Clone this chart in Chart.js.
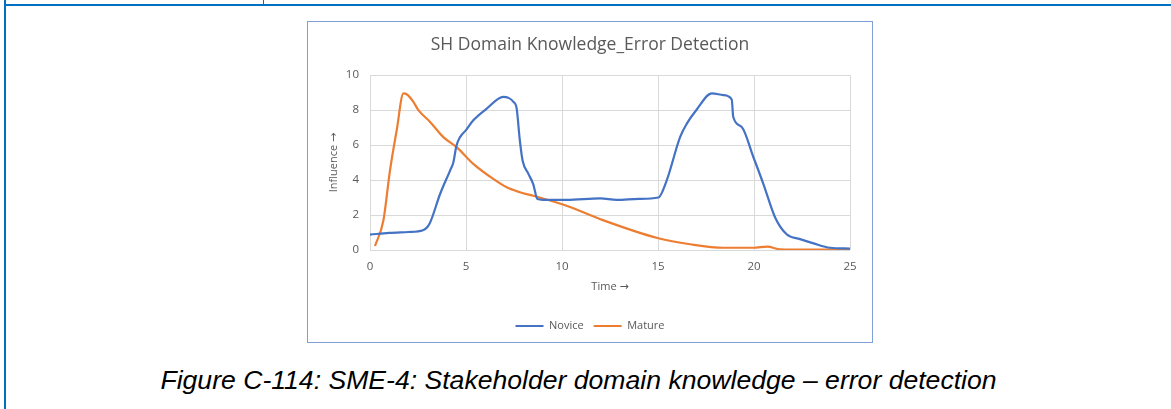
<!DOCTYPE html>
<html>
<head>
<meta charset="utf-8">
<script src="https://cdn.jsdelivr.net/npm/chart.js@4.4.1/dist/chart.umd.min.js"></script>
<style>
  html,body{margin:0;padding:0;background:#fff;}
  body{width:1171px;height:409px;position:relative;overflow:hidden;}
  .ltop{position:absolute;left:4px;top:4px;width:1167px;height:2px;background:#0070c0;}
  .lleft{position:absolute;left:4px;top:0;width:2px;height:409px;background:#0070c0;}
  .ltick{position:absolute;left:263px;top:0;width:1px;height:4px;background:#0070c0;}
  .box{position:absolute;left:307px;top:21px;width:564px;height:320px;border:1px solid #7f9fd8;box-sizing:content-box;}
  canvas{display:block;}
  .cap{position:absolute;left:-7px;width:1171px;top:365px;text-align:center;font-family:"Liberation Sans",Arial,sans-serif;font-style:italic;font-size:26.6px;color:#000;white-space:nowrap;}
</style>
</head>
<body>
<div class="ltop"></div><div class="lleft"></div><div class="ltick"></div>
<div class="box"><canvas id="c" width="564" height="320"></canvas></div>
<div class="cap">Figure C-114: SME-4: Stakeholder domain knowledge – error detection</div>
<script>
const noviceT = [0, 1.0, 2.0, 2.76, 3.1, 3.65, 4.17, 4.34, 4.5, 4.69, 5.0, 5.38, 6.08, 6.94, 7.2, 7.47, 7.64, 7.8, 7.95, 8.25, 8.5, 8.72, 9.0, 10.24, 12.0, 12.85, 14.0, 15.02, 15.45, 16.15, 16.5, 17.0, 17.8, 18.4, 18.84, 18.92, 19.36, 19.97, 20.49, 21.1, 21.7, 22.4, 23.1, 23.96, 25];
const noviceV = [0.88, 0.98, 1.03, 1.13, 1.5, 3.2, 4.54, 5.0, 5.95, 6.45, 6.85, 7.41, 8.08, 8.75, 8.7, 8.47, 8.08, 6.3, 5.1, 4.35, 3.77, 2.91, 2.87, 2.87, 2.95, 2.86, 2.92, 3.0, 3.97, 6.45, 7.22, 8.0, 8.95, 8.85, 8.6, 7.6, 7.03, 5.3, 3.77, 1.86, 0.9, 0.62, 0.38, 0.13, 0.08];
const matureT = [0.26, 0.7, 1.04, 1.39, 1.74, 1.91, 2.26, 2.52, 3.13, 3.82, 4.51, 5.38, 6.42, 7.12, 7.81, 8.5, 10.24, 12.0, 15.02, 16.67, 18.4, 19.97, 20.7, 21.35, 23.0, 25];
const matureV = [0.23, 1.7, 4.54, 6.84, 8.95, 8.9, 8.47, 7.99, 7.32, 6.45, 5.88, 4.92, 4.06, 3.58, 3.3, 3.1, 2.53, 1.76, 0.67, 0.33, 0.13, 0.13, 0.19, 0.04, 0.02, 0.02];
const xTicks = [0, 5, 10, 15, 20, 25];
const yTicks = [0, 2, 4, 6, 8, 10];
const seriesNames = ['Novice', 'Mature'];

const pts = (t, v) => t.map((x, i) => ({x: x, y: v[i]}));
const grey = '#595959';
const font = "'Open Sans', 'DejaVu Sans', sans-serif";

new Chart(document.getElementById('c'), {
  type: 'line',
  data: {
    datasets: [
      {label: seriesNames[0], data: pts(noviceT, noviceV), borderColor: '#4472c4', backgroundColor: '#4472c4', borderWidth: 2.2, pointRadius: 0, tension: 0.35, cubicInterpolationMode: 'monotone'},
      {label: seriesNames[1], data: pts(matureT, matureV), borderColor: '#ed7d31', backgroundColor: '#ed7d31', borderWidth: 2.2, pointRadius: 0, tension: 0.35, cubicInterpolationMode: 'monotone'}
    ]
  },
  options: {
    responsive: false,
    animation: false,
    layout: {padding: {left: 0, right: 0, top: 0, bottom: 0.5}},
    plugins: {
      title: {display: true, text: 'SH Domain Knowledge_Error Detection', color: grey, font: {family: font, size: 17.5, weight: 'normal', lineHeight: 1.2}, padding: {top: 12.7, bottom: 19.3}},
      legend: {position: 'bottom', labels: {color: grey, font: {family: font, size: 11}, boxWidth: 28, boxHeight: 2, padding: 10,
        generateLabels: ch => Chart.defaults.plugins.legend.labels.generateLabels(ch).map(l => Object.assign(l, {lineWidth: 0}))}},
      tooltip: {enabled: false}
    },
    scales: {
      x: {
        type: 'linear', min: 0, max: 25,
        afterBuildTicks: s => { s.ticks = xTicks.map(v => ({value: v})); },
        grid: {color: '#d9d9d9', lineWidth: 1, drawTicks: false},
        border: {display: false},
        ticks: {color: grey, font: {family: font, size: 11.5, lineHeight: 1.2}, padding: 10},
        title: {display: true, text: 'Time →', color: grey, font: {family: font, size: 11, lineHeight: 1.2}, padding: {top: -3.4, bottom: 16.9}}
      },
      y: {
        min: 0, max: 10,
        afterBuildTicks: s => { s.ticks = yTicks.map(v => ({value: v})); },
        afterFit: s => { s.width = 62; },
        grid: {color: '#d9d9d9', lineWidth: 1, drawTicks: false},
        border: {display: false},
        ticks: {color: grey, font: {family: font, size: 11.5}, padding: 11},
        title: {display: true, text: 'Influence →', color: grey, font: {family: font, size: 11, lineHeight: 1.2}, padding: {top: 19, bottom: 8}}
      },
      yRight: {
        position: 'right', min: 0, max: 10,
        afterFit: s => { s.width = 22; },
        grid: {display: false, drawTicks: false},
        border: {display: false},
        ticks: {display: false}
      }
    }
  }
});
</script>
</body>
</html>
